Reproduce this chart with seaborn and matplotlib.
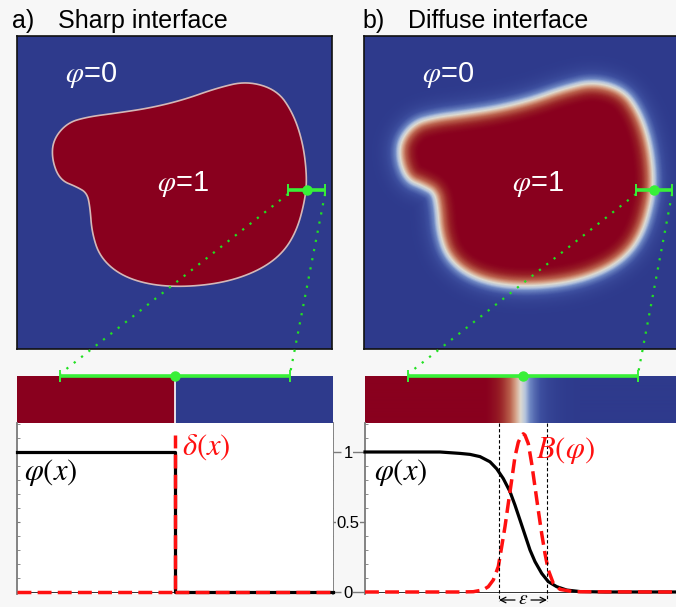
import numpy as np
import matplotlib
matplotlib.use("Agg")
import matplotlib.pyplot as plt
import seaborn as sns
from matplotlib.path import Path
from matplotlib.colors import LinearSegmentedColormap
from matplotlib.ticker import MultipleLocator

# ---------------- data ----------------
# blob outline, pixel units inside the square panel (origin top-left)
blob_x = [230, 260, 276, 286, 290, 288, 280, 266, 243, 210, 170, 133, 103, 83, 75,
          73, 70, 60, 43, 35, 36, 50, 70, 100, 133, 166, 200]
blob_y = [45, 54, 77, 107, 141, 164, 194, 217, 234, 246, 251, 249, 239, 221, 197,
          171, 157, 151, 144, 124, 104, 87, 81, 77, 72, 64, 52]

# sharp interface profiles
sharp_x = [0, 158, 158, 316]
sharp_phi = [1, 1, 0, 0]
delta_x = [0, 158, 158, 158, 316]
delta_val = [0, 0, 1.12, 0, 0]
delta_seg = [0, 0, 0, 1, 1]

# diffuse interface profiles
diff_x = [0, 75, 95, 105, 115, 125, 131.7, 138.3, 145, 150, 155, 160, 165, 170,
          176.7, 183.3, 191.7, 201.7, 215, 240, 314]
diff_phi = [1, 1, 0.99, 0.983, 0.967, 0.93, 0.88, 0.81, 0.717, 0.62, 0.514, 0.407,
            0.30, 0.217, 0.133, 0.074, 0.038, 0.014, 0.003, 0.0, 0.0]
B_x = [0, 95, 108.3, 118, 123.3, 128.3, 133.3, 136.7, 140, 143.3, 146.7, 150, 153.3,
       156.7, 158.3, 160, 163.3, 166.7, 170, 173.3, 176.7, 180, 183.3, 188.3, 195,
       208.3, 314]
B_val = [0, 0, 0.002, 0.015, 0.038, 0.086, 0.181, 0.324, 0.467, 0.633, 0.8, 0.967,
         1.07, 1.12, 1.13, 1.12, 1.06, 0.917, 0.75, 0.583, 0.417, 0.274, 0.157, 0.062,
         0.019, 0.002, 0]
tick_vals = [0, 0.5, 1]
tick_labels = ["0", "0.5", "1"]

# ---------------- style ----------------
RED = "#89001e"
BLUE = "#2e3a8c"
GREEN = "#38f038"
BG = "#f7f7f7"
plt.rcParams["font.family"] = ["Liberation Sans", "DejaVu Sans"]
plt.rcParams["mathtext.fontset"] = "stix"

cm_nodes = [0, 0.15, 0.3, 0.4, 0.5, 0.6, 0.72, 0.85, 0.95, 1]
cm_cols = [(46, 58, 140), (62, 80, 160), (110, 135, 195), (180, 195, 220),
           (222, 218, 208), (215, 165, 140), (185, 95, 75), (152, 32, 38),
           (137, 0, 30), (137, 0, 30)]
cmap = LinearSegmentedColormap.from_list(
    "ctw", [(n, tuple(c / 255 for c in col)) for n, col in zip(cm_nodes, cm_cols)])

W, H = 676, 607
fig = plt.figure(figsize=(W / 100, H / 100), dpi=100, facecolor=BG)


def px_axes(x0, y0, x1, y1, **kw):
    return fig.add_axes([x0 / W, 1 - y1 / H, (x1 - x0) / W, (y1 - y0) / H], **kw)


def chaikin(x, y, n=3):
    pts = np.column_stack([x, y]).astype(float)
    for _ in range(n):
        nxt = np.roll(pts, -1, axis=0)
        q = 0.75 * pts + 0.25 * nxt
        r = 0.25 * pts + 0.75 * nxt
        pts = np.empty((2 * len(q), 2))
        pts[0::2] = q
        pts[1::2] = r
    return pts


def signed_distance(gx, gy, poly):
    P = np.column_stack([gx.ravel(), gy.ravel()])
    A = poly
    Bp = np.roll(A, -1, axis=0)
    AB = Bp - A
    L2 = (AB ** 2).sum(1)
    out = np.empty(len(P))
    for i in range(0, len(P), 3000):
        p = P[i:i + 3000]
        AP = p[:, None, :] - A[None]
        t = np.clip((AP * AB[None]).sum(2) / L2[None], 0, 1)
        proj = A[None] + t[..., None] * AB[None]
        out[i:i + 3000] = np.sqrt(((p[:, None, :] - proj) ** 2).sum(2)).min(1)
    inside = Path(A).contains_points(P)
    return np.where(inside, out, -out).reshape(gx.shape)


poly = chaikin(blob_x, blob_y)
SQ_W, SQ_H = 315, 313

# ---------------- top-left: sharp interface ----------------
ax_ia = px_axes(17, 36, 332, 349)
ax_ia.set_facecolor(BLUE)
ax_ia.fill(poly[:, 0], poly[:, 1], facecolor=RED, edgecolor="#d4b8b8", lw=1.2)
ax_ia.set_xlim(0, SQ_W)
ax_ia.set_ylim(SQ_H, 0)

# ---------------- top-right: diffuse interface ----------------
ax_ib = px_axes(364, 36, 679, 349)
gx, gy = np.meshgrid(np.arange(SQ_W) + 0.5, np.arange(SQ_H) + 0.5)
sd = signed_distance(gx, gy, poly)
centre = 157.0
field = np.interp(centre - sd * 1.9, diff_x, diff_phi)
ax_ib.imshow(field, cmap=cmap, vmin=0, vmax=1, extent=(0, SQ_W, SQ_H, 0),
             interpolation="bilinear", aspect="auto")
ax_ib.set_xlim(0, SQ_W)
ax_ib.set_ylim(SQ_H, 0)

for ax in (ax_ia, ax_ib):
    ax.set_xticks([])
    ax.set_yticks([])
    for s in ax.spines.values():
        s.set_color("#111111")
        s.set_linewidth(1.2)

# ---------------- strips ----------------
ax_sa = px_axes(17, 376, 333, 423)
xs = np.linspace(0, 316, 632)
strip_a = np.interp(xs, [0, 157.99, 158.01, 316], [1, 1, 0, 0])
ax_sa.imshow(strip_a[None, :], cmap=cmap, vmin=0, vmax=1, extent=(0, 316, 0, 1),
             aspect="auto", interpolation="nearest")
ax_sa.axvline(sharp_x[1], color="white", lw=1.2)
ax_sa.set_xlim(0, 316)

ax_sb = px_axes(365, 376, 679, 423)
xs_b = np.linspace(0, 314, 628)
strip_b = np.interp(xs_b, diff_x, diff_phi)
ax_sb.imshow(strip_b[None, :], cmap=cmap, vmin=0, vmax=1, extent=(0, 314, 0, 1),
             aspect="auto", interpolation="bilinear")
ax_sb.set_xlim(0, 314)
for ax in (ax_sa, ax_sb):
    ax.set_axis_off()

# ---------------- profile plots ----------------
YMIN, YMAX = -2 / 140, (592 - 423) / 140
GRAY = "#7a7a7a"


def setup_plot(ax, xmax):
    ax.set_facecolor("white")
    ax.set_xlim(0, xmax)
    ax.set_ylim(YMIN, YMAX)
    ax.set_xticks([])
    ax.spines["top"].set_visible(False)
    ax.spines["right"].set_visible(False)
    ax.spines["left"].set_color(GRAY)
    ax.spines["left"].set_linewidth(1.3)
    ax.spines["bottom"].set_color("#333333")
    ax.spines["bottom"].set_linewidth(0.7)
    ax.spines["bottom"].set_position(("data", 0))
    ax.spines["bottom"].set_zorder(1)
    ax.set_xlabel("")
    ax.set_ylabel("")
    for ln in ax.lines:
        ln.set_clip_on(False)


ax_pa = px_axes(17, 423, 333, 594)
sns.lineplot(x=sharp_x, y=sharp_phi, ax=ax_pa, color="black", lw=2.3,
             estimator=None, sort=False, zorder=3)
n_before = len(ax_pa.lines)
sns.lineplot(x=delta_x, y=delta_val, units=delta_seg, ax=ax_pa, color="#ff1010",
             lw=2.5, estimator=None, sort=False, zorder=5)
for ln in ax_pa.lines[n_before:]:
    ln.set_dashes((4, 1.8))
    ln.set_zorder(5)
setup_plot(ax_pa, 316)
ax_pa.set_yticks(tick_vals)
ax_pa.yaxis.set_minor_locator(MultipleLocator(0.1))
ax_pa.tick_params(axis="y", which="both", direction="in", length=2.5, color=GRAY,
                  labelleft=False)
tw_a = ax_pa.twinx()
tw_a.set_ylim(YMIN, YMAX)
tw_a.set_yticks(tick_vals)
tw_a.yaxis.set_minor_locator(MultipleLocator(0.1))
tw_a.tick_params(axis="y", which="major", direction="out", length=6, color=GRAY,
                 labelright=False, width=1)
tw_a.tick_params(axis="y", which="minor", direction="in", length=2.5, color=GRAY)
for k, s in tw_a.spines.items():
    s.set_visible(k == "right")
tw_a.spines["right"].set_color(GRAY)
tw_a.spines["right"].set_linewidth(1.3)
tw_a.set_zorder(ax_pa.get_zorder() - 1)
ax_pa.patch.set_visible(True)

ax_pb = px_axes(365, 423, 679, 594)
sns.lineplot(x=diff_x, y=diff_phi, ax=ax_pb, color="black", lw=2.3,
             estimator=None, sort=False, zorder=3)
sns.lineplot(x=B_x, y=B_val, ax=ax_pb, color="#ff1010", lw=2.5,
             estimator=None, sort=False, zorder=5)
ax_pb.lines[-1].set_dashes((4, 1.8))
ax_pb.lines[-1].set_zorder(5)
setup_plot(ax_pb, 314)
ax_pb.set_yticks(tick_vals, tick_labels)
ax_pb.yaxis.set_minor_locator(MultipleLocator(0.1))
ax_pb.tick_params(axis="y", which="major", direction="out", length=9.4, pad=2.8,
                  color=GRAY, labelsize=12, width=1)
ax_pb.tick_params(axis="y", which="minor", direction="in", length=2.5, color=GRAY)
for lbl in ax_pb.get_yticklabels():
    lbl.set_horizontalalignment("center")
    lbl.set_bbox(dict(facecolor=BG, edgecolor="none", pad=0.3))
tw_b = ax_pb.twinx()
tw_b.set_ylim(YMIN, YMAX)
tw_b.set_yticks(tick_vals)
tw_b.tick_params(axis="y", which="major", direction="in", length=3, color=GRAY,
                 labelright=False)
for s in tw_b.spines.values():
    s.set_visible(False)
tw_b.set_zorder(ax_pb.get_zorder() - 1)

# ---------------- overlay: annotations ----------------
ov = fig.add_axes([0, 0, 1, 1], zorder=20)
ov.set_xlim(0, W)
ov.set_ylim(H, 0)
ov.set_axis_off()
ov.patch.set_alpha(0)


def zoom_marker(sx0, sx1, sdot, sy, tx0, tx1, tdot, ty):
    for a, b in ((sx0, tx0), (sx1, tx1)):
        ov.plot([a, b], [sy + 4, ty - 2], color="#22e022", lw=1.6,
                ls=(0, (1, 3.2)))
    for a, b, c, y in ((sx0, sx1, sdot, sy), (tx0, tx1, tdot, ty)):
        ov.plot([a, b], [y, y], color=GREEN, lw=2.6, solid_capstyle="butt")
        ov.plot([a, b], [y, y], ls="none", marker="|", ms=8, mew=1.4, color=GREEN)
        ov.plot([c], [y], marker="o", ms=6.5, color=GREEN)


zoom_marker(288, 325, 307, 190, 60, 290, 175, 376)
zoom_marker(636, 672, 654, 190, 408, 638, 523, 376)

# epsilon width markers
for xv in (499, 547):
    ov.plot([xv, xv], [423, 601], color="black", lw=0.8, ls=(0, (3, 2)))
ov.annotate("", xy=(499, 600), xytext=(515, 600),
            arrowprops=dict(arrowstyle="->", lw=0.9, color="black",
                            shrinkA=0, shrinkB=0))
ov.annotate("", xy=(547, 600), xytext=(531, 600),
            arrowprops=dict(arrowstyle="->", lw=0.9, color="black",
                            shrinkA=0, shrinkB=0))
ov.text(523, 600, r"$\epsilon$", fontsize=14, ha="center", va="center")

# titles
ov.text(12, 28, "a)", fontsize=18, va="baseline", ha="left")
ov.text(58, 28, "Sharp interface", fontsize=18, va="baseline", ha="left")
ov.text(362, 28, "b)", fontsize=18, va="baseline", ha="left")
ov.text(408, 28, "Diffuse interface", fontsize=18, va="baseline", ha="left")

# labels inside images
for x0, lab, y in ((65, r"$\varphi$=0", 82), (157, r"$\varphi$=1", 191),
                   (422, r"$\varphi$=0", 82), (512, r"$\varphi$=1", 191)):
    ov.text(x0, y, lab, fontsize=21, color="white", va="baseline", ha="left")

# curve labels
ov.text(24, 473, r"$\varphi(x)$", fontsize=22, va="center", ha="left")
ov.text(182, 447, r"$\delta(x)$", fontsize=22, va="center", ha="left", color="#ff1010")
ov.text(374, 473, r"$\varphi(x)$", fontsize=22, va="center", ha="left")
ov.text(536, 450, r"$B(\varphi)$", fontsize=22, va="center", ha="left", color="#ff1010")

fig.savefig("out.png", dpi=100, facecolor=BG)
